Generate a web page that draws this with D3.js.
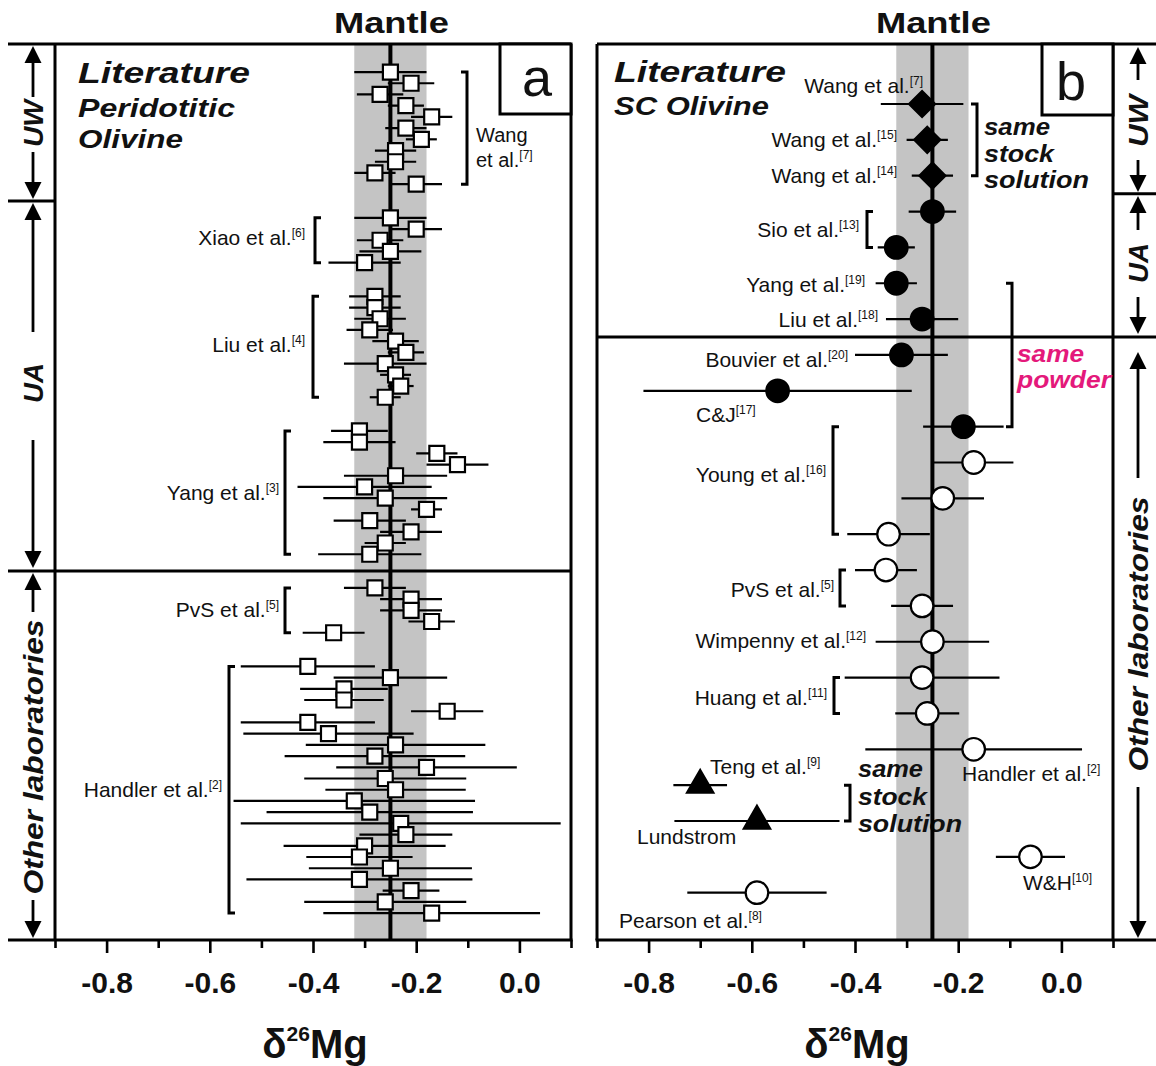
<!DOCTYPE html>
<html><head><meta charset="utf-8">
<script src="https://cdn.jsdelivr.net/npm/d3@7"></script>
<style>
body{margin:0;background:#fff}
svg{display:block}
text{font-family:"Liberation Sans",Arial,Helvetica,sans-serif;fill:#111}
</style>
</head><body>
<svg id="chart" width="1156" height="1066"></svg>
<script>
// ---- Mantle reference value (δ26Mg, ‰) and its spread ----
const mantleMean = -0.25;
const mantleSpread = 0.07;

// ---- Panel a: peridotitic olivine, δ26Mg and 2SD by study ----
const wangVals    = [-0.25, -0.21, -0.27, -0.22, -0.17, -0.22, -0.19, -0.24, -0.24, -0.28, -0.20];
const wangErr     = [0.07, 0.045, 0.045, 0.035, 0.04, 0.04, 0.03, 0.04, 0.04, 0.04, 0.05];
const xiaoVals    = [-0.25, -0.20, -0.27, -0.25, -0.30];
const xiaoErr     = [0.07, 0.05, 0.045, 0.06, 0.07];
const liuVals     = [-0.28, -0.28, -0.27, -0.29, -0.24, -0.22, -0.26, -0.24, -0.23, -0.26];
const liuErr      = [0.05, 0.05, 0.05, 0.045, 0.045, 0.035, 0.08, 0.03, 0.025, 0.03];
const yangVals    = [-0.31, -0.31, -0.16, -0.12, -0.24, -0.30, -0.26, -0.18, -0.29, -0.21, -0.26, -0.29];
const yangErr     = [0.055, 0.07, 0.04, 0.06, 0.10, 0.13, 0.12, 0.03, 0.07, 0.06, 0.04, 0.10];
const pvsVals     = [-0.28, -0.21, -0.21, -0.17, -0.36];
const pvsErr      = [0.06, 0.06, 0.06, 0.045, 0.06];
const handlerVals = [-0.41, -0.25, -0.34, -0.34, -0.14, -0.41, -0.37, -0.24, -0.28, -0.18, -0.26, -0.24,
                     -0.32, -0.29, -0.23, -0.22, -0.30, -0.31, -0.25, -0.31, -0.21, -0.26, -0.17];
const handlerErr  = [0.13, 0.11, 0.085, 0.077, 0.07, 0.13, 0.165, 0.174, 0.175, 0.175, 0.157, 0.136,
                     0.234, 0.2, 0.31, 0.09, 0.157, 0.103, 0.158, 0.219, 0.055, 0.157, 0.21];

// ---- Panel b: San Carlos olivine, one row per measurement ----
const scVals = [-0.27, -0.26, -0.25, -0.25, -0.32, -0.32, -0.27, -0.31, -0.55, -0.19, -0.17, -0.23,
                -0.335, -0.34, -0.27, -0.25, -0.27, -0.26, -0.17, -0.70, -0.59, -0.06, -0.59];
const scErr  = [0.08, 0.04, 0.04, 0.046, 0.036, 0.04, 0.07, 0.09, 0.26, 0.078, 0.077, 0.08,
                0.08, 0.06, 0.06, 0.11, 0.15, 0.062, 0.21, 0.052, 0.16, 0.067, 0.135];
// material measured: UW stock solution, SC powder, other olivine, shared stock solution
const scKind = ["stock", "stock", "stock", "powder", "powder", "powder", "powder", "powder", "powder", "powder",
                "olivine", "olivine", "olivine", "olivine", "olivine", "olivine", "olivine", "olivine", "olivine",
                "sharedStock", "sharedStock", "olivine", "olivine"];

// ---- Axis ticks ----
const majorTicks = [-0.8, -0.6, -0.4, -0.2, 0.0];
const minorTicks = [-0.9, -0.7, -0.5, -0.3, -0.1, 0.1];

// ---------------------------------------------------------------
const svg = d3.select("#chart");
const TOP = 44, BOTTOM = 940, LW = 3;

const xA = d3.scaleLinear().domain([-0.9, 0.1]).range([55, 571]);
const xB = d3.scaleLinear().domain([-0.9, 0.1]).range([597, 1113]);
const yA = d3.scaleLinear().domain([-2.5, 77.4]).range([TOP, BOTTOM]);
const yB = d3.scaleLinear().domain([-1.674, 23.32]).range([TOP, BOTTOM]);

// rows for panel a: studies stacked with two empty rows between them
const groupsA = [
  {vals: wangVals, errs: wangErr},
  {vals: xiaoVals, errs: xiaoErr},
  {vals: liuVals, errs: liuErr},
  {vals: yangVals, errs: yangErr},
  {vals: pvsVals, errs: pvsErr},
  {vals: handlerVals, errs: handlerErr}
];
const pointsA = [];
let row = 0;
groupsA.forEach(g => {
  g.first = row;
  g.vals.forEach((v, i) => pointsA.push({v, e: g.errs[i], row: row++}));
  g.last = row - 1;
  row += 2;
});
const pointsB = scVals.map((v, i) => ({v, e: scErr[i], kind: scKind[i], row: i}));

function line(x1, y1, x2, y2, w = LW, color = "#000") {
  svg.append("line").attr("x1", x1).attr("y1", y1).attr("x2", x2).attr("y2", y2)
    .attr("stroke", color).attr("stroke-width", w);
}

function mantleBand(x) {
  svg.append("rect")
    .attr("x", x(mantleMean - mantleSpread)).attr("y", TOP)
    .attr("width", x(mantleMean + mantleSpread) - x(mantleMean - mantleSpread))
    .attr("height", BOTTOM - TOP).attr("fill", "#c4c4c4");
}
function mantleLine(x) {
  line(x(mantleMean), TOP, x(mantleMean), BOTTOM, 4);
}

function axis(x, x0, x1) {
  const g = svg.append("g").attr("transform", `translate(0,${BOTTOM})`).attr("font-family", null);
  g.call(d3.axisBottom(x).tickValues(majorTicks).tickSize(13).tickFormat(d => d.toFixed(1)));
  g.select(".domain").remove();
  g.selectAll(".tick line").attr("stroke", "#000").attr("stroke-width", 2.6);
  g.selectAll(".tick text").attr("y", 53).attr("dy", 0).attr("font-size", 30)
    .attr("font-weight", "bold").attr("fill", "#111")
    .style("font-family", '"Liberation Sans", Arial, sans-serif');
  const g2 = svg.append("g").attr("transform", `translate(0,${BOTTOM})`);
  g2.call(d3.axisBottom(x).tickValues(minorTicks).tickSize(8).tickFormat(""));
  g2.select(".domain").remove();
  g2.selectAll(".tick line").attr("stroke", "#000").attr("stroke-width", 2.6);
  line(x0, BOTTOM, x1, BOTTOM);
}

function arrowHead(x, tip, dir) { // dir -1 points up, +1 points down
  const h = 17, w = 8.5;
  svg.append("path")
    .attr("d", `M${x},${tip}L${x - w},${tip - dir * h}L${x + w},${tip - dir * h}Z`)
    .attr("fill", "#000");
}

function sideArrow(x, upTip, line1End, label, textMid, textLen, line2Start, downTip) {
  arrowHead(x, upTip, -1);
  line(x, upTip + 10, x, line1End, 2.8);
  svg.append("text")
    .attr("transform", `translate(${x},${textMid}) rotate(-90)`)
    .attr("text-anchor", "middle").attr("dy", "0.36em")
    .attr("font-size", 28).attr("font-weight", "bold").attr("font-style", "italic")
    .attr("textLength", textLen).attr("lengthAdjust", "spacingAndGlyphs")
    .text(label);
  line(x, line2Start, x, downTip - 10, 2.8);
  arrowHead(x, downTip, 1);
}

function label(x, y, main, sup, anchor = "end", size = 21) {
  const t = svg.append("text").attr("x", x).attr("y", y).attr("text-anchor", anchor).attr("font-size", size);
  t.append("tspan").text(main);
  if (sup) t.append("tspan").attr("font-size", 12).attr("dy", -8).text(sup);
}

function boldItalic(x, y, txt, size, len, color = "#111") {
  svg.append("text").attr("x", x).attr("y", y).attr("font-size", size)
    .attr("font-weight", "bold").attr("font-style", "italic")
    .attr("textLength", len).attr("lengthAdjust", "spacingAndGlyphs")
    .style("fill", color).text(txt);
}

function bracket(x, y1, y2, dir) { // dir +1: "[" opening right, -1: "]" opening left
  svg.append("path")
    .attr("d", `M${x + dir * 6},${y1}H${x}V${y2}H${x + dir * 6}`)
    .attr("fill", "none").attr("stroke", "#000").attr("stroke-width", 3);
}

// ================= Panel a =================
mantleBand(xA);
mantleLine(xA);

// each measurement: error bar then open square
const gA = svg.append("g");
pointsA.forEach(d => {
  gA.append("line").attr("x1", xA(d.v - d.e)).attr("x2", xA(d.v + d.e))
    .attr("y1", yA(d.row)).attr("y2", yA(d.row)).attr("stroke", "#000").attr("stroke-width", 2.2);
  gA.append("path").attr("d", d3.symbol(d3.symbolSquare, 225)())
    .attr("transform", `translate(${xA(d.v)},${yA(d.row)})`)
    .attr("fill", "#fff").attr("stroke", "#000").attr("stroke-width", 2.2);
});

// frame
line(8, TOP, 571, TOP);
line(55, TOP, 55, BOTTOM);
line(571, TOP, 571, BOTTOM);
line(8, yA(11.5), 55, yA(11.5));
line(8, yA(44.5), 571, yA(44.5));
axis(xA, 8, 572.5);
svg.append("rect").attr("x", 500).attr("y", TOP).attr("width", 71).attr("height", 70)
  .attr("fill", "#fff").attr("stroke", "#000").attr("stroke-width", LW);
svg.append("text").attr("x", 537).attr("y", 96).attr("text-anchor", "middle")
  .attr("font-size", 54).text("a");

// study brackets and names
bracket(467, yA(groupsA[0].first), yA(groupsA[0].last), -1);
label(476, 142, "Wang", null, "start", 20);
label(476, 167, "et al.", "[7]", "start", 20);
bracket(315, yA(groupsA[1].first), yA(groupsA[1].last), 1);
label(305, 245, "Xiao et al.", "[6]");
bracket(313, yA(groupsA[2].first), yA(groupsA[2].last), 1);
label(305, 352, "Liu et al.", "[4]");
bracket(285, yA(groupsA[3].first), yA(groupsA[3].last), 1);
label(279, 500, "Yang et al.", "[3]");
bracket(285, yA(groupsA[4].first), yA(groupsA[4].last), 1);
label(279, 617, "PvS et al.", "[5]");
bracket(229, yA(groupsA[5].first), yA(groupsA[5].last), 1);
label(222, 797, "Handler et al.", "[2]");

boldItalic(78, 83, "Literature", 30, 172);
boldItalic(78, 117, "Peridotitic", 25, 157);
boldItalic(78, 148, "Olivine", 25, 105);

sideArrow(33, 46, 97, "UW", 123.5, 47, 152, 199);
sideArrow(33, 203, 332, "UA", 383, 40, 440, 568);
sideArrow(33, 573, 612, "Other laboratories", 757, 275, 900, 938);

// ================= Panel b =================
mantleBand(xB);
boldItalic(858, 777, "same", 23, 65);
boldItalic(858, 805, "stock", 23, 69);
boldItalic(858, 832, "solution", 23, 104);
mantleLine(xB);

svg.append("g").selectAll("line").data(pointsB).join("line")
  .attr("x1", d => xB(d.v - d.e)).attr("x2", d => xB(d.v + d.e))
  .attr("y1", d => yB(d.row)).attr("y2", d => yB(d.row))
  .attr("stroke", "#000").attr("stroke-width", 2.2);

const kinds = ["stock", "powder", "olivine", "sharedStock"];
const symbolFor = d3.scaleOrdinal().domain(kinds)
  .range([d3.symbolSquare, d3.symbolCircle, d3.symbolCircle, d3.symbolTriangle]);
const sizeFor = d3.scaleOrdinal().domain(kinds).range([340, 400, 400, 300]);
const fillFor = d3.scaleOrdinal().domain(kinds).range(["#000", "#000", "#fff", "#000"]);
svg.append("g").selectAll("path").data(pointsB).join("path")
  .attr("d", d => d3.symbol(symbolFor(d.kind), sizeFor(d.kind))())
  .attr("transform", d => `translate(${xB(d.v)},${yB(d.row)})` + (d.kind === "stock" ? " rotate(45)" : ""))
  .attr("fill", d => fillFor(d.kind)).attr("stroke", "#000").attr("stroke-width", 2.2);

// frame
line(597, TOP, 1156, TOP);
line(597, TOP, 597, BOTTOM);
line(1113, TOP, 1113, BOTTOM);
line(1113, yB(2.5), 1156, yB(2.5));
line(597, yB(6.5), 1156, yB(6.5));
axis(xB, 595.5, 1156);
svg.append("rect").attr("x", 1042).attr("y", TOP).attr("width", 71).attr("height", 71)
  .attr("fill", "#fff").attr("stroke", "#000").attr("stroke-width", LW);
svg.append("text").attr("x", 1071).attr("y", 100).attr("text-anchor", "middle")
  .attr("font-size", 54).text("b");

boldItalic(614, 82, "Literature", 30, 172);
boldItalic(614, 115, "SC Olivine", 25, 155);

// study names
label(923, 93, "Wang et al.", "[7]");
label(897, 147, "Wang et al.", "[15]");
label(897, 183, "Wang et al.", "[14]");
label(859, 237, "Sio et al.", "[13]");
label(865, 292, "Yang et al.", "[19]");
label(878, 327, "Liu et al.", "[18]");
label(848, 367, "Bouvier et al.", "[20]");
label(696, 422, "C&J", "[17]", "start");
label(826, 482, "Young et al.", "[16]");
label(834, 597, "PvS et al.", "[5]");
label(866, 648, "Wimpenny et al.", "[12]");
label(827, 705, "Huang et al.", "[11]");
label(962, 781, "Handler et al.", "[2]", "start");
label(710, 774, "Teng et al.", "[9]", "start");
label(637, 844, "Lundstrom", null, "start");
label(1023, 890, "W&H", "[10]", "start");
label(619, 928, "Pearson et al.", "[8]", "start");

// brackets grouping rows
bracket(977, yB(0), yB(2), -1);
bracket(867, yB(3), yB(4), 1);
bracket(1012, yB(5), yB(9), -1);
bracket(833, yB(9), yB(12), 1);
bracket(840, yB(13), yB(14), 1);
bracket(834, yB(16), yB(17), 1);
bracket(850, yB(19), yB(20), -1);

boldItalic(984, 135, "same", 23, 66);
boldItalic(984, 162, "stock", 23, 70);
boldItalic(984, 188, "solution", 23, 105);
boldItalic(1017, 362, "same", 23, 67, "#e4197b");
boldItalic(1017, 388, "powder", 23, 94, "#e4197b");

sideArrow(1138, 47, 80, "UW", 121, 52, 160, 192);
sideArrow(1138, 196, 230, "UA", 263, 40, 297, 334);
sideArrow(1138, 352, 478, "Other laboratories", 634, 275, 787, 938);

// ================= Titles =================
[xA, xB].forEach(x => {
  svg.append("text").attr("x", x(mantleMean) + 1).attr("y", 33).attr("text-anchor", "middle")
    .attr("font-size", 30).attr("font-weight", "bold")
    .attr("textLength", 115).attr("lengthAdjust", "spacingAndGlyphs").text("Mantle");
});
[[xA, 315], [xB, 857]].forEach(([x, cx]) => {
  const t = svg.append("text").attr("x", cx).attr("y", 1058).attr("text-anchor", "middle")
    .attr("font-size", 40).attr("font-weight", "bold");
  t.append("tspan").text("δ");
  t.append("tspan").attr("font-size", 21).attr("dy", -17).text("26");
  t.append("tspan").attr("dy", 17).text("Mg");
});
</script>
</body></html>
